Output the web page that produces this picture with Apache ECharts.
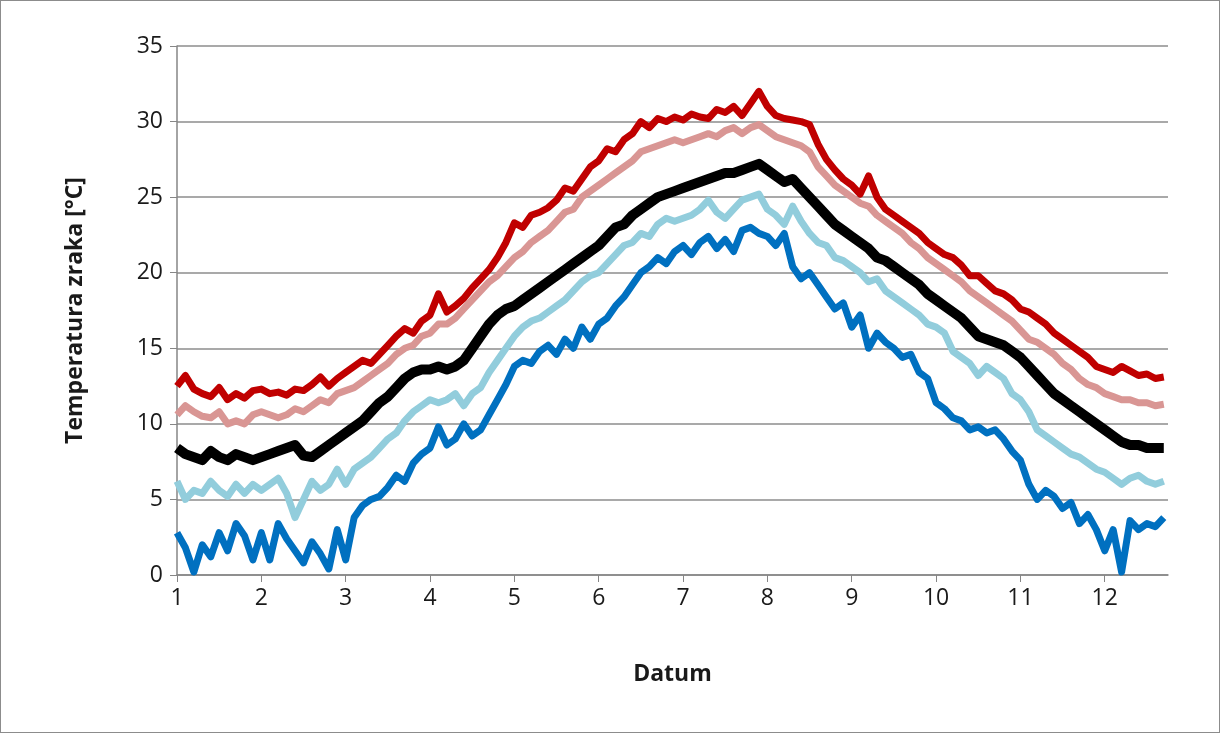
<!DOCTYPE html>
<html>
<head>
<meta charset="utf-8">
<script src="https://cdn.jsdelivr.net/npm/echarts@6/dist/echarts.min.js"></script>
<style>
  html, body { margin: 0; padding: 0; background: #fff; }
  .main { width: 1218px; height: 731px; border: 1px solid #8c8c8c; }
</style>
</head>
<body>
<div class="main"></div>
<script>
// daily-ish samples, one every 0.1 month starting at month 1.0
var startMonth = 1.0;
var step = 0.1;
var yTicks = [0, 5, 10, 15, 20, 25, 30, 35];
var xTicks = [1, 2, 3, 4, 5, 6, 7, 8, 9, 10, 11, 12];

var redData = [12.5,13.2,12.3,12.0,11.8,12.4,11.6,12.0,11.7,12.2,
  12.3,12.0,12.1,11.9,12.3,12.2,12.6,13.1,12.5,13.0,
  13.4,13.8,14.2,14.0,14.6,15.2,15.8,16.3,16.0,16.8,
  17.2,18.6,17.4,17.8,18.3,19.0,19.6,20.2,21.0,22.0,
  23.3,23.0,23.8,24.0,24.3,24.8,25.6,25.4,26.2,27.0,
  27.4,28.2,28.0,28.8,29.2,30.0,29.6,30.2,30.0,30.3,
  30.1,30.5,30.3,30.2,30.8,30.6,31.0,30.4,31.2,32.0,
  31.0,30.4,30.2,30.1,30.0,29.8,28.5,27.5,26.8,26.2,
  25.8,25.2,26.4,25.0,24.2,23.8,23.4,23.0,22.6,22.0,
  21.6,21.2,21.0,20.5,19.8,19.8,19.3,18.8,18.6,18.2,
  17.6,17.4,17.0,16.6,16.0,15.6,15.2,14.8,14.4,13.8,
  13.6,13.4,13.8,13.5,13.2,13.3,13.0,13.1];
var pinkData = [10.6,11.2,10.8,10.5,10.4,10.8,10.0,10.2,10.0,10.6,
  10.8,10.6,10.4,10.6,11.0,10.8,11.2,11.6,11.4,12.0,
  12.2,12.4,12.8,13.2,13.6,14.0,14.6,15.0,15.2,15.8,
  16.0,16.6,16.6,17.0,17.6,18.2,18.8,19.4,19.8,20.4,
  21.0,21.4,22.0,22.4,22.8,23.4,24.0,24.2,25.0,25.4,
  25.8,26.2,26.6,27.0,27.4,28.0,28.2,28.4,28.6,28.8,
  28.6,28.8,29.0,29.2,29.0,29.4,29.6,29.2,29.6,29.8,
  29.4,29.0,28.8,28.6,28.4,28.0,27.0,26.4,25.8,25.4,
  25.0,24.6,24.4,23.8,23.4,23.0,22.6,22.0,21.6,21.0,
  20.6,20.2,19.8,19.4,18.8,18.4,18.0,17.6,17.2,16.8,
  16.2,15.6,15.4,15.0,14.6,14.0,13.6,13.0,12.6,12.4,
  12.0,11.8,11.6,11.6,11.4,11.4,11.2,11.3];
var blackData = [8.4,8.0,7.8,7.6,8.2,7.8,7.6,8.0,7.8,7.6,
  7.8,8.0,8.2,8.4,8.6,7.9,7.8,8.2,8.6,9.0,
  9.4,9.8,10.2,10.8,11.4,11.8,12.4,13.0,13.4,13.6,
  13.6,13.8,13.6,13.8,14.2,15.0,15.8,16.6,17.2,17.6,
  17.8,18.2,18.6,19.0,19.4,19.8,20.2,20.6,21.0,21.4,
  21.8,22.4,23.0,23.2,23.8,24.2,24.6,25.0,25.2,25.4,
  25.6,25.8,26.0,26.2,26.4,26.6,26.6,26.8,27.0,27.2,
  26.8,26.4,26.0,26.2,25.6,25.0,24.4,23.8,23.2,22.8,
  22.4,22.0,21.6,21.0,20.8,20.4,20.0,19.6,19.2,18.6,
  18.2,17.8,17.4,17.0,16.4,15.8,15.6,15.4,15.2,14.8,
  14.4,13.8,13.2,12.6,12.0,11.6,11.2,10.8,10.4,10.0,
  9.6,9.2,8.8,8.6,8.6,8.4,8.4,8.4];
var lightBlueData = [6.2,5.0,5.6,5.4,6.2,5.6,5.2,6.0,5.4,6.0,
  5.6,6.0,6.4,5.4,3.8,5.0,6.2,5.6,6.0,7.0,
  6.0,7.0,7.4,7.8,8.4,9.0,9.4,10.2,10.8,11.2,
  11.6,11.4,11.6,12.0,11.2,12.0,12.4,13.4,14.2,15.0,
  15.8,16.4,16.8,17.0,17.4,17.8,18.2,18.8,19.4,19.8,
  20.0,20.6,21.2,21.8,22.0,22.6,22.4,23.2,23.6,23.4,
  23.6,23.8,24.2,24.8,24.0,23.6,24.2,24.8,25.0,25.2,
  24.2,23.8,23.2,24.4,23.4,22.6,22.0,21.8,21.0,20.8,
  20.4,20.0,19.4,19.6,18.8,18.4,18.0,17.6,17.2,16.6,
  16.4,16.0,14.8,14.4,14.0,13.2,13.8,13.4,13.0,12.0,
  11.6,10.8,9.6,9.2,8.8,8.4,8.0,7.8,7.4,7.0,
  6.8,6.4,6.0,6.4,6.6,6.2,6.0,6.2];
var blueData = [2.8,1.8,0.2,2.0,1.2,2.8,1.6,3.4,2.6,1.0,
  2.8,1.0,3.4,2.4,1.6,0.8,2.2,1.4,0.4,3.0,
  1.0,3.8,4.6,5.0,5.2,5.8,6.6,6.2,7.4,8.0,
  8.4,9.8,8.6,9.0,10.0,9.2,9.6,10.6,11.6,12.6,
  13.8,14.2,14.0,14.8,15.2,14.6,15.6,15.0,16.4,15.6,
  16.6,17.0,17.8,18.4,19.2,20.0,20.4,21.0,20.6,21.4,
  21.8,21.2,22.0,22.4,21.6,22.2,21.4,22.8,23.0,22.6,
  22.4,21.8,22.6,20.4,19.6,20.0,19.2,18.4,17.6,18.0,
  16.4,17.2,15.0,16.0,15.4,15.0,14.4,14.6,13.4,13.0,
  11.4,11.0,10.4,10.2,9.6,9.8,9.4,9.6,9.0,8.2,
  7.6,6.0,5.0,5.6,5.2,4.4,4.8,3.4,4.0,3.0,
  1.6,3.0,0.2,3.6,3.0,3.4,3.2,3.8];

function pairs(arr){
  return arr.map(function(v, i){ return [startMonth + i * step, v]; });
}
function line(data, color, width, z){
  return { type: 'line', data: pairs(data), showSymbol: false, z: z,
    lineStyle: { color: color, width: width, join: 'round' } };
}

var myChart = echarts.init(document.querySelector('.main'));
var labelStyle = { color: '#1a1a1a', fontSize: 23, fontFamily: 'Open Sans' };
var nameStyle = { color: '#1a1a1a', fontSize: 23, fontWeight: 'bold', fontFamily: 'Open Sans' };
var option = {
  animation: false,
  grid: { left: 176, right: 51, top: 45, bottom: 157 },
  xAxis: {
    type: 'value', min: 1, max: 12.75, interval: 1,
    name: 'Datum', nameLocation: 'middle', nameGap: 88,
    nameTextStyle: nameStyle,
    axisLine: { lineStyle: { color: '#868686', width: 1.5 } },
    axisTick: { show: true, length: 7, inside: false, lineStyle: { color: '#868686' } },
    axisLabel: Object.assign({ margin: 12, showMaxLabel: false,
      formatter: function(v){ return xTicks.indexOf(v) >= 0 ? String(v) : ''; } }, labelStyle),
    splitLine: { show: false }
  },
  yAxis: {
    type: 'value', min: 0, max: 35, interval: 5,
    name: 'Temperatura zraka [°C]', nameLocation: 'middle', nameGap: 90, nameRotate: 90,
    nameTextStyle: nameStyle,
    axisLine: { show: true, lineStyle: { color: '#868686', width: 1.5 } },
    axisTick: { show: true, length: 7, lineStyle: { color: '#868686' } },
    axisLabel: Object.assign({ margin: 14,
      formatter: function(v){ return yTicks.indexOf(v) >= 0 ? String(v) : ''; } }, labelStyle),
    splitLine: { lineStyle: { color: '#8c8c8c', width: 1.5 } }
  },
  series: [
    line(blueData, '#0070C0', 7, 1),
    line(lightBlueData, '#92CDDC', 7, 2),
    line(blackData, '#000000', 10, 3),
    line(pinkData, '#D99694', 7, 4),
    line(redData, '#C00000', 7, 5)
  ]
};
myChart.setOption(option);
</script>
</body>
</html>
